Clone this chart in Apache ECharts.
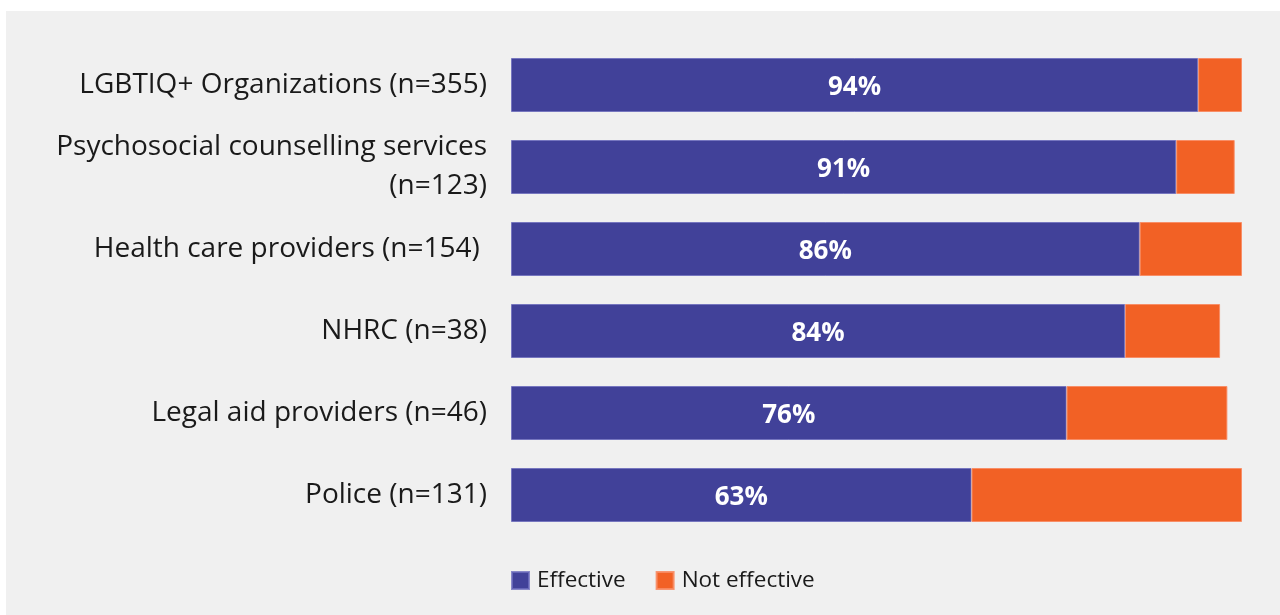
<!DOCTYPE html>
<html><head><meta charset="utf-8">
<script src="https://cdn.jsdelivr.net/npm/echarts@6/dist/echarts.min.js"></script>
<style>
html,body{margin:0;padding:0;background:#fff;}
#panel{position:absolute;left:6px;top:11px;width:1274px;height:604px;background:#f0f0f0;}
#chart{position:absolute;left:0;top:0;width:1280px;height:615px;}
</style></head>
<body><div id="panel"></div><div id="chart"></div>
<script>
const categories = ["LGBTIQ+ Organizations (n=355)", "Psychosocial counselling services\n(n=123)", "Health care providers (n=154) ", "NHRC (n=38)", "Legal aid providers (n=46)", "Police (n=131)"];
const effective = [94, 91, 86, 84, 76, 63];
const notEffective = [6, 8, 14, 13, 22, 37];

const chart = echarts.init(document.getElementById('chart'), null, {renderer:'canvas'});
const font = "'Open Sans', 'Noto Sans', sans-serif";
chart.setOption({
  backgroundColor: 'transparent',
  animation: false,
  grid: {left: 511, top: 44, width: 731, height: 492, containLabel: false},
  legend: {
    top: 569, left: 511, padding: 0, itemWidth: 17, itemHeight: 17, itemGap: 30,
    icon: 'rect',
    textStyle: {fontFamily: font, fontSize: 22.5, color: '#1a1a1a', padding:[0,0,0,3]},
    data: ['Effective', 'Not effective']
  },
  xAxis: {type: 'value', min: 0, max: 100, show: false},
  yAxis: {
    type: 'category', inverse: true, data: categories,
    axisLine: {show: false}, axisTick: {show: false},
    axisLabel: {fontFamily: font, fontSize: 28, color: '#1a1a1a', margin: 24, align: 'right', lineHeight: 39}
  },
  series: [
    {name: 'Effective', type: 'bar', stack: 's', data: effective, barWidth: 54,
     itemStyle: {color: '#414199', borderColor: 'rgba(110,110,190,0.8)', borderWidth: 1},
     label: {show: true, position: 'inside', offset: [0, 3], formatter: '{c}%', color: '#fff', fontWeight: 'bold', fontSize: 26, fontFamily: font}},
    {name: 'Not effective', type: 'bar', stack: 's', data: notEffective, barWidth: 54,
     itemStyle: {color: '#f26125', borderColor: 'rgba(248,140,100,0.9)', borderWidth: 1}}
  ]
});
</script></body></html>
